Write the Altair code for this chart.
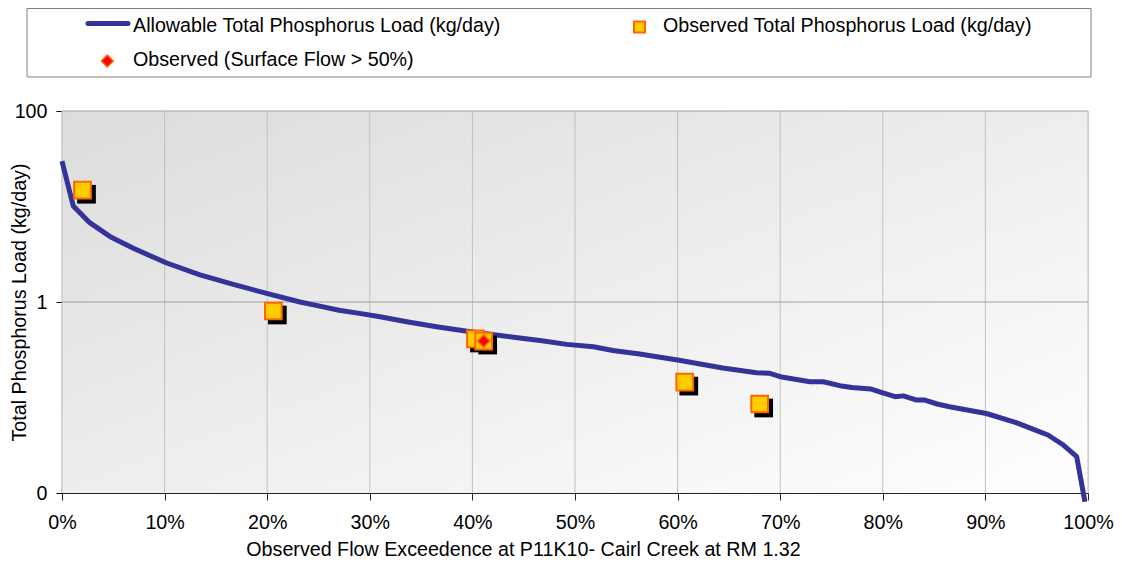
import altair as alt
import pandas as pd

# ---------------- data ----------------
curve_x = [0.000, 0.011, 0.027, 0.047, 0.0695, 0.102, 0.1345, 0.167, 0.1995, 0.232,
           0.250, 0.270, 0.290, 0.310, 0.336, 0.365, 0.400, 0.446, 0.466, 0.492,
           0.518, 0.537, 0.563, 0.600, 0.644, 0.677, 0.690, 0.700, 0.729, 0.742,
           0.758, 0.770, 0.788, 0.800, 0.812, 0.820, 0.833, 0.841, 0.853, 0.865,
           0.901, 0.930, 0.950, 0.961, 0.976, 0.989, 0.997]
curve_y = [29.9, 10.1, 6.77, 4.83, 3.65, 2.56, 1.92, 1.53, 1.23, 1.00,
           0.91, 0.82, 0.76, 0.70, 0.62, 0.55, 0.485, 0.42, 0.395, 0.36,
           0.34, 0.31, 0.285, 0.247, 0.204, 0.182, 0.179, 0.165, 0.146, 0.146,
           0.133, 0.127, 0.123, 0.112, 0.102, 0.104, 0.094, 0.094, 0.0855, 0.080,
           0.068, 0.0545, 0.045, 0.0405, 0.0318, 0.024, 0.0081]

obs_x = [0.020, 0.206, 0.403, 0.411, 0.607, 0.680]
obs_y = [14.8, 0.805, 0.41, 0.39, 0.145, 0.0855]

surf_x = [0.411]
surf_y = [0.39]

x_tick_values = [0.0, 0.1, 0.2, 0.3, 0.4, 0.5, 0.6, 0.7, 0.8, 0.9, 1.0]
y_tick_values = [0.01, 1, 100]
y_grid_values = [1, 100]

series_names = ["Allowable Total Phosphorus Load (kg/day)",
                "Observed Total Phosphorus Load (kg/day)",
                "Observed (Surface Flow > 50%)"]
x_title = "Observed Flow Exceedence at P11K10- Cairl Creek at RM 1.32"
y_title = "Total Phosphorus Load (kg/day)"

# ---------------- style ----------------
FONT = "Liberation Sans"
FS = 19.7
W, H = 1026, 382
LINE_COLOR = "#333399"
SQ_FILL = "#FFCC00"
SQ_STROKE = "#FF6600"

curve_df = pd.DataFrame({"x": curve_x, "y": curve_y})
obs_df = pd.DataFrame({"x": obs_x, "y": obs_y})
surf_df = pd.DataFrame({"x": surf_x, "y": surf_y})
xgrid_df = pd.DataFrame({"x": x_tick_values})
ygrid_df = pd.DataFrame({"y": y_grid_values})

x_scale = alt.Scale(domain=[0, 1], nice=False, zero=False)
y_scale = alt.Scale(type="log", domain=[0.01, 100], nice=False)

x_axis = alt.Axis(values=x_tick_values, format=".0%", grid=False,
                  title=x_title, titleFont=FONT, titleFontSize=FS, titleFontWeight="normal",
                  titleColor="#000", titleX=461, titleY=62, titleAlign="center",
                  titleBaseline="alphabetic",
                  labelFont=FONT, labelFontSize=FS, labelColor="#000",
                  labelBaseline="alphabetic", labelPadding=28, labelFlush=False,
                  tickSize=7, tickColor="#222", domainColor="#222", domainWidth=1.2)
y_axis = alt.Axis(values=y_tick_values, format="d", grid=False,
                  title=y_title, titleFont=FONT, titleFontSize=FS, titleFontWeight="normal",
                  titleColor="#000", titleX=-37, titleY=H / 2, titleAlign="center",
                  titleBaseline="alphabetic", titleAngle=270,
                  labelFont=FONT, labelFontSize=FS, labelColor="#000",
                  labelPadding=9, labelFlush=False,
                  tickSize=6, tickColor="#000", domainColor="#000", domainWidth=1.2)

X = alt.X("x:Q", scale=x_scale, axis=x_axis)
Y = alt.Y("y:Q", scale=y_scale, axis=y_axis)

one = alt.Data(values=[{}])

background = alt.Chart(one).mark_rect(
    fill=alt.Gradient(gradient="linear",
                      stops=[alt.GradientStop(color="#dcdcdc", offset=0),
                             alt.GradientStop(color="#ffffff", offset=1)],
                      x1=0, y1=0, x2=1, y2=1)
).encode(x=alt.value(0), x2=alt.value(W), y=alt.value(0), y2=alt.value(H))

xgrid = alt.Chart(xgrid_df).mark_rule(color="#c0c0c0", strokeWidth=1).encode(x=X)
ygrid = alt.Chart(ygrid_df).mark_rule(color="#a0a0a0", strokeWidth=1).encode(y=Y)

line = alt.Chart(curve_df).mark_line(color=LINE_COLOR, strokeWidth=5,
                                     strokeJoin="round").encode(x=X, y=Y)

shadow = alt.Chart(obs_df).mark_square(color="#000", opacity=1, size=350,
                                       xOffset=4, yOffset=4).encode(x=X, y=Y)
squares = alt.Chart(obs_df).mark_square(fill=SQ_FILL, stroke=SQ_STROKE, strokeWidth=2,
                                        opacity=1, fillOpacity=1, size=280).encode(x=X, y=Y)
diamond = alt.Chart(surf_df).mark_point(shape="diamond", fill="#FF0000", stroke=SQ_STROKE,
                                        strokeWidth=1.5, filled=True, opacity=1,
                                        size=150).encode(x=X, y=Y)

# ---------------- legend (drawn manually) ----------------
leg_box = alt.Chart(one).mark_rect(fill="white", stroke="#808080", strokeWidth=1).encode(
    x=alt.value(-35), x2=alt.value(1029), y=alt.value(-102.5), y2=alt.value(-34))
leg_line = alt.Chart(one).mark_rule(color=LINE_COLOR, strokeWidth=5, strokeCap="round").encode(
    x=alt.value(26), x2=alt.value(66), y=alt.value(-87.5))
leg_sq = alt.Chart(one).mark_square(fill=SQ_FILL, stroke=SQ_STROKE, strokeWidth=2,
                                    opacity=1, size=120).encode(
    x=alt.value(577.5), y=alt.value(-84))
leg_dia = alt.Chart(one).mark_point(shape="diamond", fill="#FF0000", stroke=SQ_STROKE,
                                    strokeWidth=1.5, filled=True, opacity=1, size=140).encode(
    x=alt.value(45.3), y=alt.value(-50))


def leg_text(label, xx, yy):
    return alt.Chart(one).mark_text(align="left", baseline="alphabetic", font=FONT,
                                    fontSize=FS, color="#000").encode(
        x=alt.value(xx), y=alt.value(yy), text=alt.value(label))


legend_layers = [leg_box, leg_line, leg_sq, leg_dia,
                 leg_text(series_names[0], 71, -79),
                 leg_text(series_names[1], 601, -79),
                 leg_text(series_names[2], 71, -45)]

chart = alt.layer(background, xgrid, ygrid, line, shadow, squares, diamond,
                  *legend_layers).properties(
    width=W, height=H,
    padding={"left": 54, "top": 103, "right": 26, "bottom": 66},
    autosize=alt.AutoSizeParams(type="none"),
).configure_view(stroke=None).configure(background="white")

chart.save("out.html", embed_options={"renderer": "svg", "actions": False})
